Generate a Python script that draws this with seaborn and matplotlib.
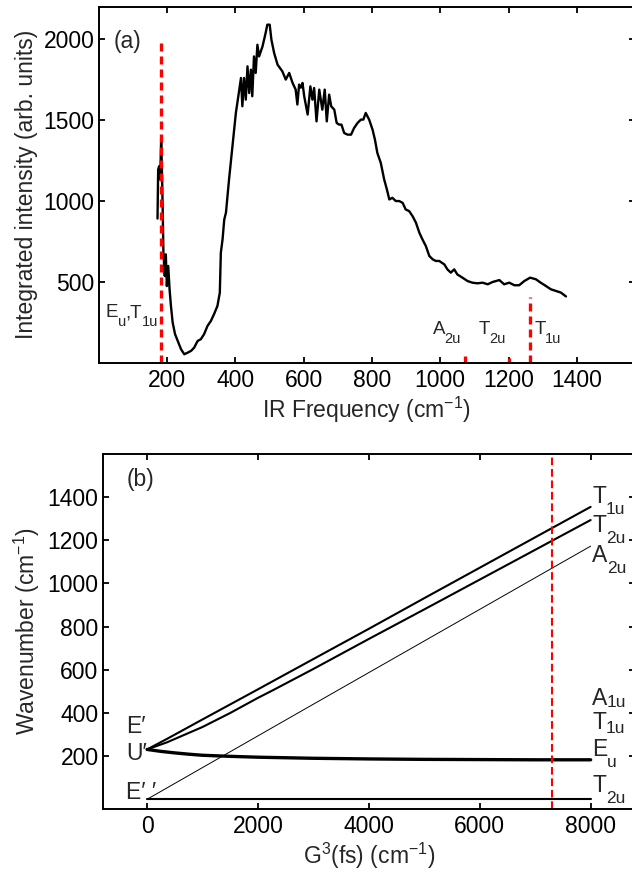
import matplotlib
matplotlib.use("Agg")
import matplotlib.pyplot as plt
import seaborn as sns
import pandas as pd

# ---------------- data: panel (a) IR spectrum ----------------
ir_freq = [172.7, 174.6, 177.5, 180.5, 183.4, 186.3, 190, 194, 197, 200, 204, 208, 212, 217,
           224, 232, 241.5, 251, 261, 271, 280, 290, 299.5, 309, 319, 329, 338, 348, 355, 358,
           363, 368, 373, 382, 392, 402, 412, 417, 421, 426, 431, 436, 441, 446, 450, 455, 460,
           465, 470, 480, 489, 494, 501, 506, 514, 524, 538, 548, 558, 568, 577, 582, 587, 592,
           597, 602, 612, 620, 626, 631, 638, 646, 655, 662, 668, 675, 681, 690, 697, 704, 711,
           719, 729, 739, 748, 758, 768, 775, 782, 792, 802, 809, 816, 826, 836, 844, 851, 860,
           870, 880, 890, 899, 909, 919, 929, 939, 948, 958, 968, 978, 987, 997, 1012, 1021,
           1031, 1041, 1050, 1065, 1080, 1094, 1109, 1124, 1139, 1153, 1173, 1187, 1202, 1217,
           1231, 1246, 1263, 1280, 1294, 1309, 1324, 1338, 1353, 1368]
ir_int = [892, 1194, 1215, 1133, 1390, 1133, 681, 537, 671, 475, 599, 455, 352, 250,
          178, 136, 85, 54, 64, 75, 95, 136, 147, 178, 229, 260, 301, 352, 434, 681,
          763, 886, 928, 1133, 1339, 1544, 1688, 1760, 1585, 1760, 1626, 1832, 1667, 1811, 1647, 1893, 1791,
          1965, 1893, 1955, 2037, 2089, 2089, 1996, 1914, 1842, 1801, 1750, 1791, 1729, 1688, 1596, 1719, 1700,
          1729, 1647, 1534, 1708, 1626, 1698, 1492, 1688, 1564, 1688, 1492, 1657, 1585, 1564, 1482, 1472, 1472,
          1420, 1410, 1410, 1451, 1482, 1503, 1503, 1544, 1503, 1441, 1379, 1297, 1236, 1133, 1071, 1010, 1020,
          1000, 1000, 989, 948, 938, 907, 866, 804, 763, 722, 661, 640, 630, 630, 609, 578,
          558, 578, 547, 527, 506, 496, 492, 496, 486, 500, 512, 486, 496, 480,
          480, 506, 527, 517, 496, 476, 455, 445, 435, 411]

mode_freq = [182, 1073, 1202, 1263]
mode_height = [2000, 45, 30, 405]

a_xticks = [200, 400, 600, 800, 1000, 1200, 1400]
a_yticks = [500, 1000, 1500, 2000]

# ---------------- data: panel (b) mode dispersion ----------------
g_t1u = [0, 360, 1000, 1982, 3000, 4000, 5000, 6000, 7000, 8000]
w_t1u = [231, 280, 370, 507, 650, 790, 932, 1073, 1214, 1355]

g_t2u = [0, 360, 1000, 1500, 2000, 2282, 3000, 4000, 5000, 6000, 7000, 8000]
w_t2u = [231, 264, 335, 400, 470, 507, 604, 743, 880, 1018, 1156, 1294]

g_a2u = [0, 2763, 8000]
w_a2u = [0, 406, 1173]

g_eu = [0, 250, 500, 750, 1000, 1500, 2000, 3000, 4000, 5000, 6000, 7000, 8000]
w_eu = [231, 222, 215, 209, 204, 199, 195, 190, 187, 185, 184, 183, 183]

g_t2u_low = [0, 8000]
w_t2u_low = [0, 0]

g_marker = 7300
b_xticks = [0, 2000, 4000, 6000, 8000]
b_yticks = [200, 400, 600, 800, 1000, 1200, 1400]

# ---------------- style ----------------
sns.set_style("ticks")
plt.rcParams['font.family'] = ['Liberation Sans', 'DejaVu Sans']
plt.rcParams['mathtext.fontset'] = 'custom'
plt.rcParams['mathtext.rm'] = 'Liberation Sans'
plt.rcParams['mathtext.it'] = 'Liberation Sans'
plt.rcParams['mathtext.bf'] = 'Liberation Sans:bold'
plt.rcParams['axes.linewidth'] = 1.4
plt.rcParams['axes.edgecolor'] = 'black'

FS = 16.5
W, H = 632, 874
fig = plt.figure(figsize=(W / 100, H / 100), dpi=100)
ax1 = fig.add_axes([98.5 / W, 1 - 363 / H, (635 - 98.5) / W, (363 - 6.7) / H])
ax2 = fig.add_axes([102.7 / W, 1 - 809 / H, (635 - 102.7) / W, (809 - 454) / H])
renderer = fig.canvas.get_renderer()


def chain(ax, x, y, parts, fs, sfs, drop):
    """Draw text pieces one after another; parts = [(text, is_sub), ...].
    drop is the subscript baseline drop in pixels."""
    dx = 0.0
    for txt, sub in parts:
        t = ax.annotate(txt, xy=(x, y), xycoords='data',
                        xytext=(dx, -drop if sub else 0), textcoords='offset pixels',
                        fontsize=sfs if sub else fs, va='baseline', ha='left')
        bb = t.get_window_extent(renderer)
        dx += bb.width - 0.5


for ax in (ax1, ax2):
    ax.tick_params(direction='in', top=True, right=True, length=4.3, width=1.3,
                   labelsize=FS, colors='black')
    ax.tick_params(axis='x', pad=4)
    ax.tick_params(axis='y', pad=3)
    for s in ax.spines.values():
        s.set_visible(True)
        s.set_linewidth(1.4)

# ---- panel (a)
df_a = pd.DataFrame({'freq': ir_freq, 'intensity': ir_int})
sns.lineplot(data=df_a, x='freq', y='intensity', ax=ax1, color='black', lw=1.7, sort=False)
ax1.vlines(mode_freq, 0, mode_height, colors='#ff0000', lw=2.4, linestyles=(0, (2.4, 1.5)))
ax1.set_xlim(0, 1570)
ax1.set_ylim(0, 2200)
ax1.set_xticks(a_xticks)
ax1.set_yticks(a_yticks)
ax1.set_xlabel('IR Frequency (cm$^{-1}$)', fontsize=FS, labelpad=2)
ax1.set_ylabel('Integrated intensity (arb. units)', fontsize=FS, labelpad=4)
ax1.text(45, 1946, '(a)', fontsize=FS)
FSa, SFa, DRa = 13.5, 10.5, 9
chain(ax1, 21, 281, [('E', False), ('u', True), (',T', False), ('1u', True)], FSa, SFa, DRa)
chain(ax1, 978, 182, [('A', False), ('2u', True)], FSa, SFa, DRa)
chain(ax1, 1113, 182, [('T', False), ('2u', True)], FSa, SFa, DRa)
chain(ax1, 1275, 182, [('T', False), ('1u', True)], FSa, SFa, DRa)

# ---- panel (b)
sns.lineplot(x=g_t1u, y=w_t1u, ax=ax2, color='black', lw=1.5)
sns.lineplot(x=g_t2u, y=w_t2u, ax=ax2, color='black', lw=1.5)
sns.lineplot(x=g_a2u, y=w_a2u, ax=ax2, color='black', lw=0.7)
sns.lineplot(x=g_eu, y=w_eu, ax=ax2, color='black', lw=2.4)
sns.lineplot(x=g_t2u_low, y=w_t2u_low, ax=ax2, color='black', lw=1.5)
ax2.axvline(g_marker, color='#ff0000', lw=1.5, ls=(0, (3.7, 1.8)))
ax2.set_xlim(-800, 8800)
ax2.set_ylim(-45, 1600)
ax2.set_xticks(b_xticks)
ax2.set_yticks(b_yticks)
ax2.set_xlabel('G$^3$(fs) (cm$^{-1}$)', fontsize=FS, labelpad=2)
ax2.set_ylabel('Wavenumber (cm$^{-1}$)', fontsize=FS, labelpad=4)
ax2.text(-373, 1452, '(b)', fontsize=FS)
ax2.text(-380, 308, 'E\u2032', fontsize=FS)
ax2.text(-380, 182, 'U\u2032', fontsize=FS)
ax2.text(-380, 0, 'E\u2032 \u2032', fontsize=FS)
rx = 8030
SFb, DRb = 12.5, 11
chain(ax2, rx, 1375, [('T', False), ('1u', True)], FS, SFb, DRb)
chain(ax2, rx, 1237, [('T', False), ('2u', True)], FS, SFb, DRb)
chain(ax2, rx, 1099, [('A', False), ('2u', True)], FS, SFb, DRb)
chain(ax2, rx, 438, [('A', False), ('1u', True)], FS, SFb, 2)
chain(ax2, rx, 328, [('T', False), ('1u', True)], FS, SFb, 4)
chain(ax2, rx, 200, [('E', False), ('u', True)], FS, SFb, DRb)
chain(ax2, rx, 33, [('T', False), ('2u', True)], FS, SFb, DRb)

fig.savefig('out.png', dpi=100)
